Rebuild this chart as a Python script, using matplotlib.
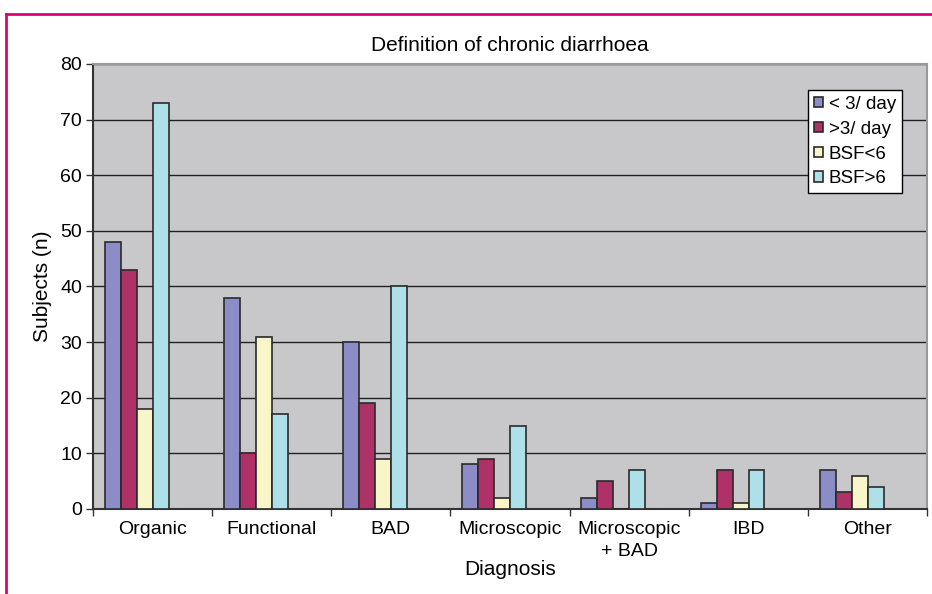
import numpy as np
import matplotlib.pyplot as plt
from matplotlib.lines import Line2D

categories = ["Organic", "Functional", "BAD", "Microscopic", "Microscopic\n+ BAD", "IBD", "Other"]
series_labels = ["< 3/ day", ">3/ day", "BSF<6", "BSF>6"]
less_3_day = [48, 38, 30, 8, 2, 1, 7]
more_3_day = [43, 10, 19, 9, 5, 7, 3]
bsf_under_6 = [18, 31, 9, 2, 0, 1, 6]
bsf_over_6 = [73, 17, 40, 15, 7, 7, 4]
series_values = [less_3_day, more_3_day, bsf_under_6, bsf_over_6]
colors = ["#8C8CC6", "#AE3268", "#F8F6C8", "#AEE0EA"]

plt.rcParams["font.family"] = ["Liberation Sans", "DejaVu Sans"]

fig = plt.figure(figsize=(9.32, 5.94), dpi=100)
ax = fig.add_axes([0.0998, 0.1431, 0.8948, 0.7492])

x = np.arange(len(categories))
bar_w = 0.134
start = -0.5 + 0.1
for j, (vals, col, lab) in enumerate(zip(series_values, colors, series_labels)):
    ax.bar(x + start + j * bar_w, vals, width=bar_w, align="edge",
           color=col, edgecolor="#2a2a2a", linewidth=1.2, label=lab, zorder=3)

ax.set_facecolor("#C8C8CA")
ax.set_xlim(-0.5, len(categories) - 0.5)
ax.set_ylim(0, 80)
ax.set_yticks(range(0, 81, 10))
ax.yaxis.grid(True, color="#222222", linewidth=1.0, zorder=1)
ax.set_axisbelow(True)

ax.set_xticks(x)
ax.set_xticklabels(categories, fontsize=14, linespacing=1.35)
ax.set_xticks(np.arange(-0.5, len(categories)), minor=True)
ax.tick_params(axis="x", which="major", length=0, pad=9)
ax.tick_params(axis="x", which="minor", length=5, width=1.0, color="#333333")
ax.tick_params(axis="y", length=5, width=1.0, color="#333333", labelsize=14, pad=3)

for side in ["left", "bottom"]:
    ax.spines[side].set_color("#333333")
    ax.spines[side].set_linewidth(1.5)
for side in ["top", "right"]:
    ax.spines[side].set_color("#999999")
    ax.spines[side].set_linewidth(1.5)

ax.set_title("Definition of chronic diarrhoea", fontsize=15, pad=9)
ax.set_xlabel("Diagnosis", fontsize=15, labelpad=0)
ax.set_ylabel("Subjects (n)", fontsize=15, labelpad=6)

leg = ax.legend(loc="upper left", bbox_to_anchor=(0.857, 0.942), borderaxespad=0,
                fontsize=13.5, handlelength=0.5, handleheight=0.5, handletextpad=0.3,
                labelspacing=0.42, borderpad=0.32, fancybox=False,
                framealpha=1, edgecolor="black")
leg.get_frame().set_linewidth(1.0)

# pink frame round the figure
fig.add_artist(Line2D([6 / 932, 1], [1 - 14 / 594, 1 - 14 / 594],
                      transform=fig.transFigure, color="#E2007A", linewidth=2))
fig.add_artist(Line2D([6 / 932, 6 / 932], [0, 1 - 14 / 594],
                      transform=fig.transFigure, color="#E2007A", linewidth=2))

fig.savefig("out.png", dpi=100)
